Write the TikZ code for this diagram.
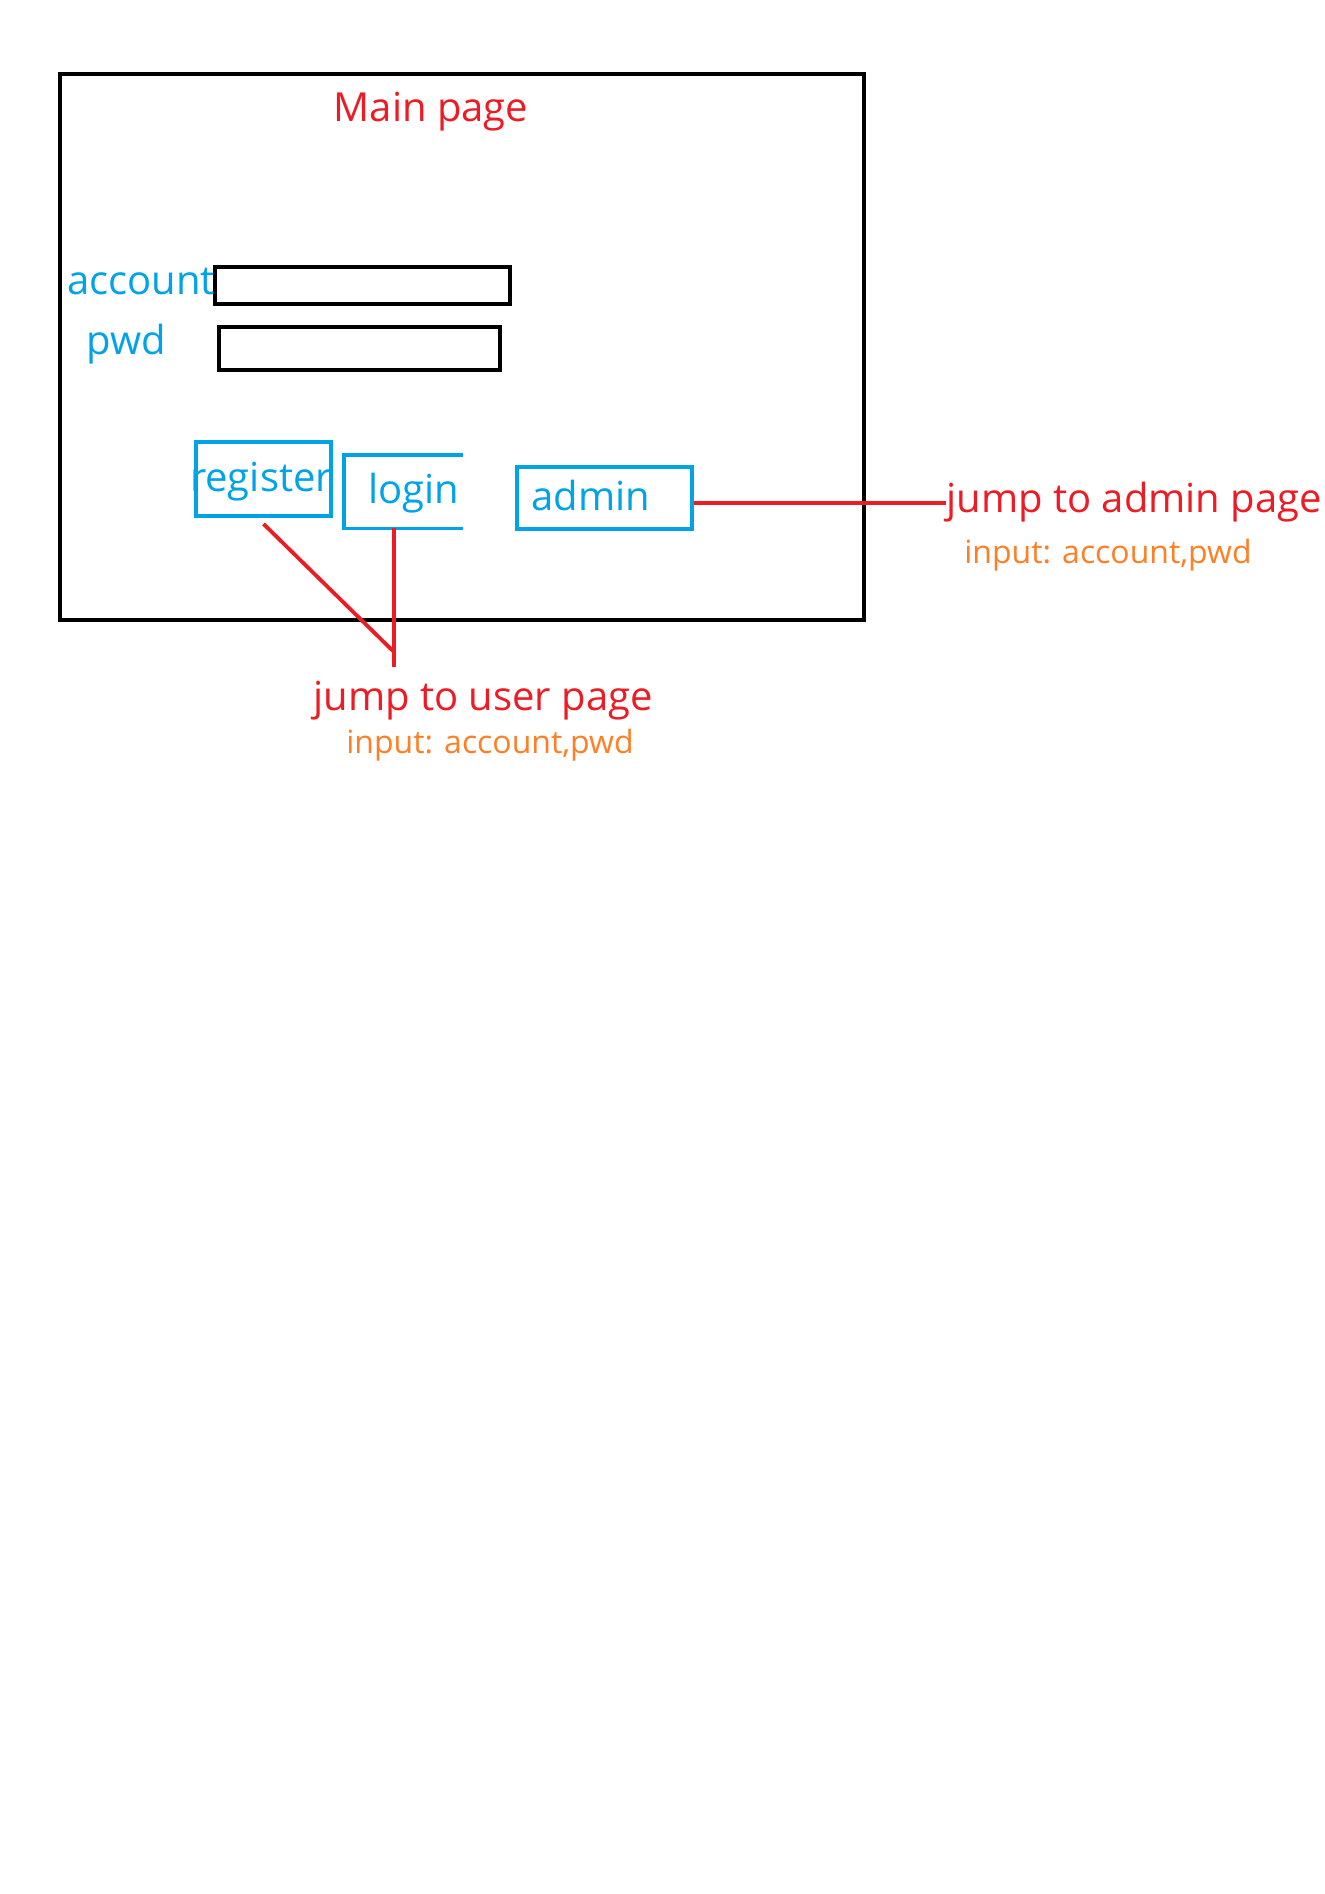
\documentclass[tikz,border=0pt]{standalone}
\usepackage{fontspec}
\setmainfont{Open Sans}
\usetikzlibrary{positioning}
\definecolor{pred}{RGB}{237,28,36}
\definecolor{pblue}{RGB}{0,162,232}
\definecolor{porange}{RGB}{255,127,39}

\begin{document}
\begin{tikzpicture}[x=0.5pt,y=-0.5pt,
  field/.style={draw,line width=1.9pt,inner sep=0pt},
  btn/.style={draw=pblue,line width=1.9pt,inner sep=0pt},
  lbl/.style={text=pblue,font=\fontsize{20}{24}\selectfont,inner sep=0pt,yshift=-1.5pt},
  note/.style={text=pred,font=\fontsize{20}{24}\selectfont,inner sep=0pt,yshift=-1.5pt},
  hint/.style={text=porange,font=\fontsize{16}{19}\selectfont,inner sep=0pt,yshift=-1.5pt},
  jump/.style={draw=pred,line width=1.9pt}]
\useasboundingbox (0,0) rectangle (1324,1894);
% page frame
\node[field,minimum width=402pt,minimum height=273pt] (page) at (462,347) {};
\node[note] (title) at (431,109) {Main page};
% input fields
\node[field,minimum width=147.5pt,minimum height=18.5pt] (acc) at (362.5,285.5) {};
\node[lbl] (acclbl) at (141,279) {account};
\node[field,minimum width=140.5pt,minimum height=21.5pt] (pwd) at (359.5,348.5) {};
\node[lbl] (pwdlbl) at (126,341) {pwd};
% buttons
\node[btn,minimum width=67.5pt,minimum height=37pt] (reg) at (263.5,479) {};
\node[lbl] (reglbl) at (261,479) {register};
\node[minimum width=59.5pt,minimum height=36.5pt,inner sep=0pt] (login) at (403.5,491.5) {};
\draw[pblue,line width=1.9pt] (login.north east) -| (login.south west) -- (login.south east);
\node[lbl] (loginlbl) at (414,490) {login};
\node[btn,minimum width=87.5pt,minimum height=31pt] (admin) at (604.5,498) {};
\node[lbl] (adminlbl) at (591,492) {admin};
% jumps
\node[note,anchor=west] (jadmin) at (946,499) {jump to admin page};
\node[hint] (hadmin) at (1108,552) {input: account,pwd};
\node[note] (juser) at (483,698) {jump to user page};
\node[hint] (huser) at (490,742) {input: account,pwd};
\coordinate (bend) at (394,652);
\coordinate (meet) at (394,667);
\draw[jump] ([yshift=-2.5pt]admin.east) -- ([yshift=-2.5pt]admin.east -| jadmin.west);
\draw[jump] ([yshift=-3pt]reg.south) -- (bend);
\draw[jump] (login.south -| meet) -- (meet);
\end{tikzpicture}
\end{document}
